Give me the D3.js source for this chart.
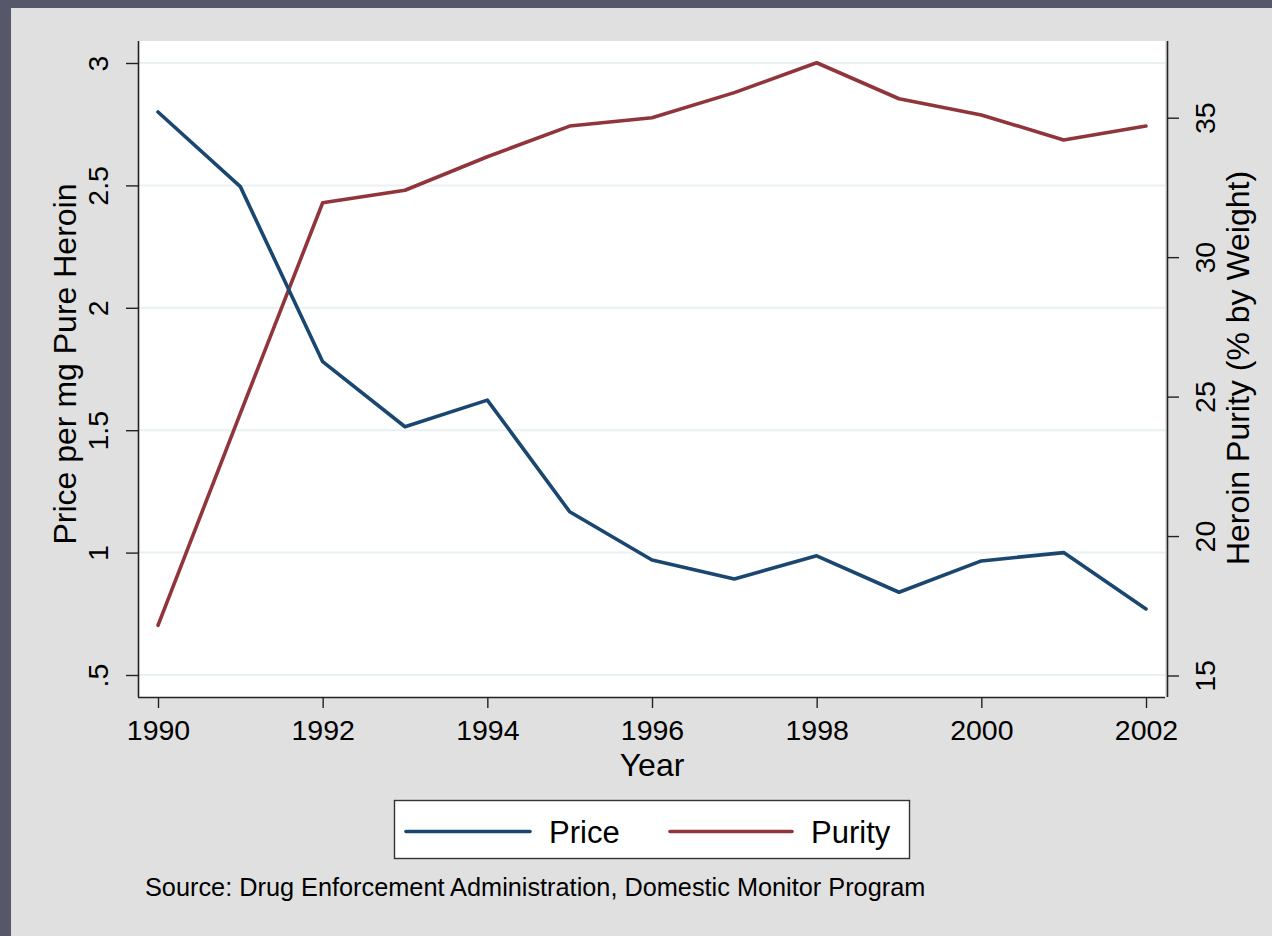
<!DOCTYPE html>
<html>
<head>
<meta charset="utf-8">
<script src="https://cdn.jsdelivr.net/npm/d3@7"></script>
<style>
  html, body { margin: 0; padding: 0; background: #565869; }
  svg { display: block; }
  text { font-family: "Liberation Sans", Arial, sans-serif; fill: #000; }
</style>
</head>
<body>
<script>
// Heroin price and purity, 1990–2002
const years = [1990, 1991, 1992, 1993, 1994, 1995, 1996, 1997, 1998, 1999, 2000, 2001, 2002];
const price = [2.80, 2.495, 1.78, 1.514, 1.623, 1.167, 0.97, 0.892, 0.987, 0.838, 0.966, 1.0, 0.77];
const purity = [16.8, 24.4, 31.95, 32.4, 33.6, 34.7, 35.0, 35.9, 36.97, 35.68, 35.1, 34.2, 34.7];

const xTicks = [1990, 1992, 1994, 1996, 1998, 2000, 2002];
const leftTicks = [0.5, 1, 1.5, 2, 2.5, 3];
const leftTickLabels = [".5", "1", "1.5", "2", "2.5", "3"];
const rightTicks = [15, 20, 25, 30, 35];

const W = 1272, H = 936;
const plot = { left: 138, right: 1166, top: 41, bottom: 697 };

const svg = d3.select("body").append("svg").attr("width", W).attr("height", H);

// outer frame and graph panel
svg.append("rect").attr("x", 0).attr("y", 0).attr("width", W).attr("height", H).attr("fill", "#565869");
svg.append("rect").attr("x", 11).attr("y", 8).attr("width", W - 11).attr("height", H - 8).attr("fill", "#e0e0e0");
svg.append("rect").attr("x", plot.left).attr("y", plot.top)
  .attr("width", plot.right - 1 - plot.left).attr("height", plot.bottom - plot.top).attr("fill", "#ffffff");

const x = d3.scaleLinear().domain([1990, 2002]).range([158, 1146]);
const yL = d3.scaleLinear().domain([0.5, 3]).range([675, 63]);
const yR = d3.scaleLinear().domain([15, 35]).range([675.5, 117.7]);

// horizontal grid at the price ticks
svg.append("g").selectAll("line").data(leftTicks).join("line")
  .attr("x1", plot.left + 1).attr("x2", plot.right - 1)
  .attr("y1", d => yL(d)).attr("y2", d => yL(d))
  .attr("stroke", "#e9f1f3").attr("stroke-width", 2);

const tickFont = 28.5;

// bottom axis
const xAxis = svg.append("g").attr("transform", `translate(0,${plot.bottom})`)
  .call(d3.axisBottom(x).tickValues(xTicks).tickFormat(d3.format("d")).tickSize(11).tickPadding(12));
xAxis.select(".domain").attr("d", `M${plot.left},0.5H${plot.right - 1}`).attr("stroke", "#222").attr("stroke-width", 1.6);
xAxis.selectAll(".tick line").attr("stroke", "#222").attr("stroke-width", 1.4);
xAxis.selectAll(".tick text").attr("font-size", tickFont).attr("font-family", "Liberation Sans, Arial, sans-serif").attr("fill", "#000");

// left axis (price)
const lAxis = svg.append("g").attr("transform", `translate(${plot.left},0)`)
  .call(d3.axisLeft(yL).tickValues(leftTicks).tickFormat((d, i) => leftTickLabels[i]).tickSize(12));
lAxis.select(".domain").attr("d", `M0.5,${plot.top}V${plot.bottom}`).attr("stroke", "#222").attr("stroke-width", 1.6);
lAxis.selectAll(".tick line").attr("stroke", "#222").attr("stroke-width", 1.4);
lAxis.selectAll(".tick text")
  .attr("x", null).attr("dy", null)
  .attr("transform", "translate(-40,0) rotate(-90)")
  .attr("text-anchor", "middle").attr("dominant-baseline", "central")
  .attr("font-size", tickFont).attr("font-family", "Liberation Sans, Arial, sans-serif").attr("fill", "#000");

// right axis (purity)
const rAxis = svg.append("g").attr("transform", `translate(1167,0)`)
  .call(d3.axisRight(yR).tickValues(rightTicks).tickFormat(d3.format("d")).tickSize(12));
rAxis.select(".domain").attr("d", `M0.5,${plot.top}V${plot.bottom}`).attr("stroke", "#222").attr("stroke-width", 1.6);
rAxis.selectAll(".tick line").attr("stroke", "#222").attr("stroke-width", 1.4);
rAxis.selectAll(".tick text")
  .attr("x", null).attr("dy", null)
  .attr("transform", "translate(38,0) rotate(-90)")
  .attr("text-anchor", "middle").attr("dominant-baseline", "central")
  .attr("font-size", tickFont).attr("font-family", "Liberation Sans, Arial, sans-serif").attr("fill", "#000");

// axis titles
svg.append("text").attr("x", 652).attr("y", 776).attr("text-anchor", "middle")
  .attr("font-size", 32).text("Year");
svg.append("text").attr("transform", "translate(76,364) rotate(-90)").attr("text-anchor", "middle")
  .attr("font-size", 32).text("Price per mg Pure Heroin");
svg.append("text").attr("transform", "translate(1249,368) rotate(-90)").attr("text-anchor", "middle")
  .attr("font-size", 32).text("Heroin Purity (% by Weight)");

// series lines
const priceColor = "#1a476f", purityColor = "#90353b";
const lineP = d3.line().x((d, i) => x(years[i])).y(d => yL(d));
const lineQ = d3.line().x((d, i) => x(years[i])).y(d => yR(d));
svg.append("path").datum(purity).attr("d", lineQ).attr("fill", "none")
  .attr("stroke", purityColor).attr("stroke-width", 3.6).attr("stroke-linejoin", "round").attr("stroke-linecap", "round");
svg.append("path").datum(price).attr("d", lineP).attr("fill", "none")
  .attr("stroke", priceColor).attr("stroke-width", 3.6).attr("stroke-linejoin", "round").attr("stroke-linecap", "round");

// legend
const legend = svg.append("g");
legend.append("rect").attr("x", 394.5).attr("y", 800.5).attr("width", 515).attr("height", 58)
  .attr("fill", "#ffffff").attr("stroke", "#333").attr("stroke-width", 1.4);
const legendItems = [
  { label: "Price", color: priceColor, x0: 406, x1: 530, tx: 549 },
  { label: "Purity", color: purityColor, x0: 670, x1: 792, tx: 811 }
];
legendItems.forEach(it => {
  legend.append("line").attr("x1", it.x0).attr("x2", it.x1).attr("y1", 831.5).attr("y2", 831.5)
    .attr("stroke", it.color).attr("stroke-width", 3.6).attr("stroke-linecap", "round");
  legend.append("text").attr("x", it.tx).attr("y", 843).attr("font-size", 31).text(it.label);
});

// source note
svg.append("text").attr("x", 145).attr("y", 896).attr("font-size", 25.3)
  .text("Source: Drug Enforcement Administration, Domestic Monitor Program");
</script>
</body>
</html>
